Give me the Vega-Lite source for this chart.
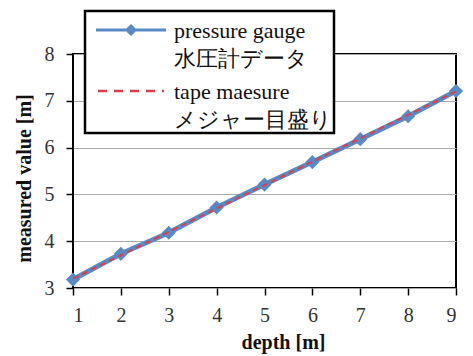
{
  "$schema": "https://vega.github.io/schema/vega-lite/v6.json",
  "width": 383,
  "height": 234,
  "autosize": {"type": "none"},
  "padding": {"left": 73, "top": 54, "right": 17, "bottom": 68},
  "background": "white",
  "config": {
    "view": {"stroke": "black", "strokeWidth": 2},
    "font": "Liberation Serif"
  },
  "data": {
    "values": [
      {"depth": 1, "value": 3.18, "series": "pressure gauge"},
      {"depth": 2, "value": 3.73, "series": "pressure gauge"},
      {"depth": 3, "value": 4.18, "series": "pressure gauge"},
      {"depth": 4, "value": 4.72, "series": "pressure gauge"},
      {"depth": 5, "value": 5.21, "series": "pressure gauge"},
      {"depth": 6, "value": 5.69, "series": "pressure gauge"},
      {"depth": 7, "value": 6.18, "series": "pressure gauge"},
      {"depth": 8, "value": 6.67, "series": "pressure gauge"},
      {"depth": 9, "value": 7.21, "series": "pressure gauge"},
      {"depth": 1, "value": 3.2, "series": "tape maesure"},
      {"depth": 2, "value": 3.7, "series": "tape maesure"},
      {"depth": 3, "value": 4.2, "series": "tape maesure"},
      {"depth": 4, "value": 4.7, "series": "tape maesure"},
      {"depth": 5, "value": 5.2, "series": "tape maesure"},
      {"depth": 6, "value": 5.7, "series": "tape maesure"},
      {"depth": 7, "value": 6.2, "series": "tape maesure"},
      {"depth": 8, "value": 6.7, "series": "tape maesure"},
      {"depth": 9, "value": 7.2, "series": "tape maesure"}
    ]
  },
  "encoding": {
    "x": {
      "field": "depth", "type": "quantitative",
      "scale": {"domain": [1, 9], "nice": false},
      "axis": {
        "values": [1, 2, 3, 4, 5, 6, 7, 8, 9],
        "title": "depth [m]", "grid": false, "domain": false,
        "labelFont": "Liberation Serif", "labelFontSize": 20, "labelColor": "#333",
        "labelPadding": 10, "tickColor": "black", "tickSize": 7, "tickWidth": 1.5,
        "titleFont": "Liberation Serif", "titleFontSize": 20, "titleFontWeight": "bold",
        "titleColor": "#111", "titleX": 210, "titlePadding": 7
      }
    },
    "y": {
      "field": "value", "type": "quantitative",
      "scale": {"domain": [3, 8], "nice": false, "zero": false},
      "axis": {
        "values": [3, 4, 5, 6, 7, 8],
        "title": "measured value [m]", "grid": true, "gridColor": "#aaa", "gridWidth": 1,
        "domain": false,
        "labelFont": "Liberation Serif", "labelFontSize": 20, "labelColor": "#333",
        "labelPadding": 12, "tickColor": "black", "tickSize": 7, "tickWidth": 1.5,
        "titleFont": "Liberation Serif", "titleFontSize": 20, "titleFontWeight": "bold",
        "titleColor": "#111", "titleY": 124, "titlePadding": 10
      }
    },
    "color": {
      "field": "series", "type": "nominal",
      "scale": {"domain": ["pressure gauge", "tape maesure"], "range": ["#5a8ac6", "#d9404d"]},
      "legend": {
        "orient": "none", "legendX": 12, "legendY": -43, "title": null,
        "strokeColor": "black", "fillColor": "white",
        "padding": 2, "symbolType": "stroke", "symbolSize": 400, "symbolStrokeWidth": 3,
        "labelFont": "Liberation Serif", "labelFontSize": 22,
        "labelColor": "#111", "labelLimit": 400, "rowPadding": 4, "labelOffset": 65,
        "labelExpr": "datum.label == 'pressure gauge' ? ['pressure gauge\u00a0\u00a0\u00a0\u00a0', '水圧計データ'] : ['tape maesure', 'メジャー目盛り']",
        "encode": {
          "legend": {"update": {"strokeWidth": {"value": 2.5}}},
          "labels": {"update": {"lineHeight": {"value": 28}, "dy": {"value": 7}}},
          "symbols": {
            "update": {
              "shape": {"signal": "datum.value === 'pressure gauge' ? 'M-0.2,0.6L6.8,0.6M3.3,0.2L3.7,0.6L3.3,1.0L2.9,0.6Z' : 'M0,0.6L6.6,0.6'"},
              "fill": {"signal": "datum.value === 'pressure gauge' ? '#5a8ac6' : 'transparent'"},
              "stroke": {"signal": "datum.value === 'pressure gauge' ? '#5a8ac6' : '#d9404d'"},
              "strokeDash": {"signal": "datum.value === 'pressure gauge' ? [1, 0] : [9, 7]"},
              "strokeWidth": {"signal": "datum.value === 'pressure gauge' ? 3 : 2.5"},
              "opacity": {"value": 1}
            }
          }
        }
      }
    }
  },
  "layer": [
    {
      "transform": [{"filter": "datum.series === 'pressure gauge'"}],
      "mark": {"type": "line", "strokeWidth": 5}
    },
    {
      "transform": [{"filter": "datum.series === 'pressure gauge'"}],
      "mark": {"type": "point", "shape": "diamond", "filled": true, "size": 200, "opacity": 1}
    },
    {
      "transform": [{"filter": "datum.series === 'tape maesure'"}],
      "mark": {"type": "line", "strokeWidth": 2, "strokeDash": [6, 4]}
    }
  ]
}
